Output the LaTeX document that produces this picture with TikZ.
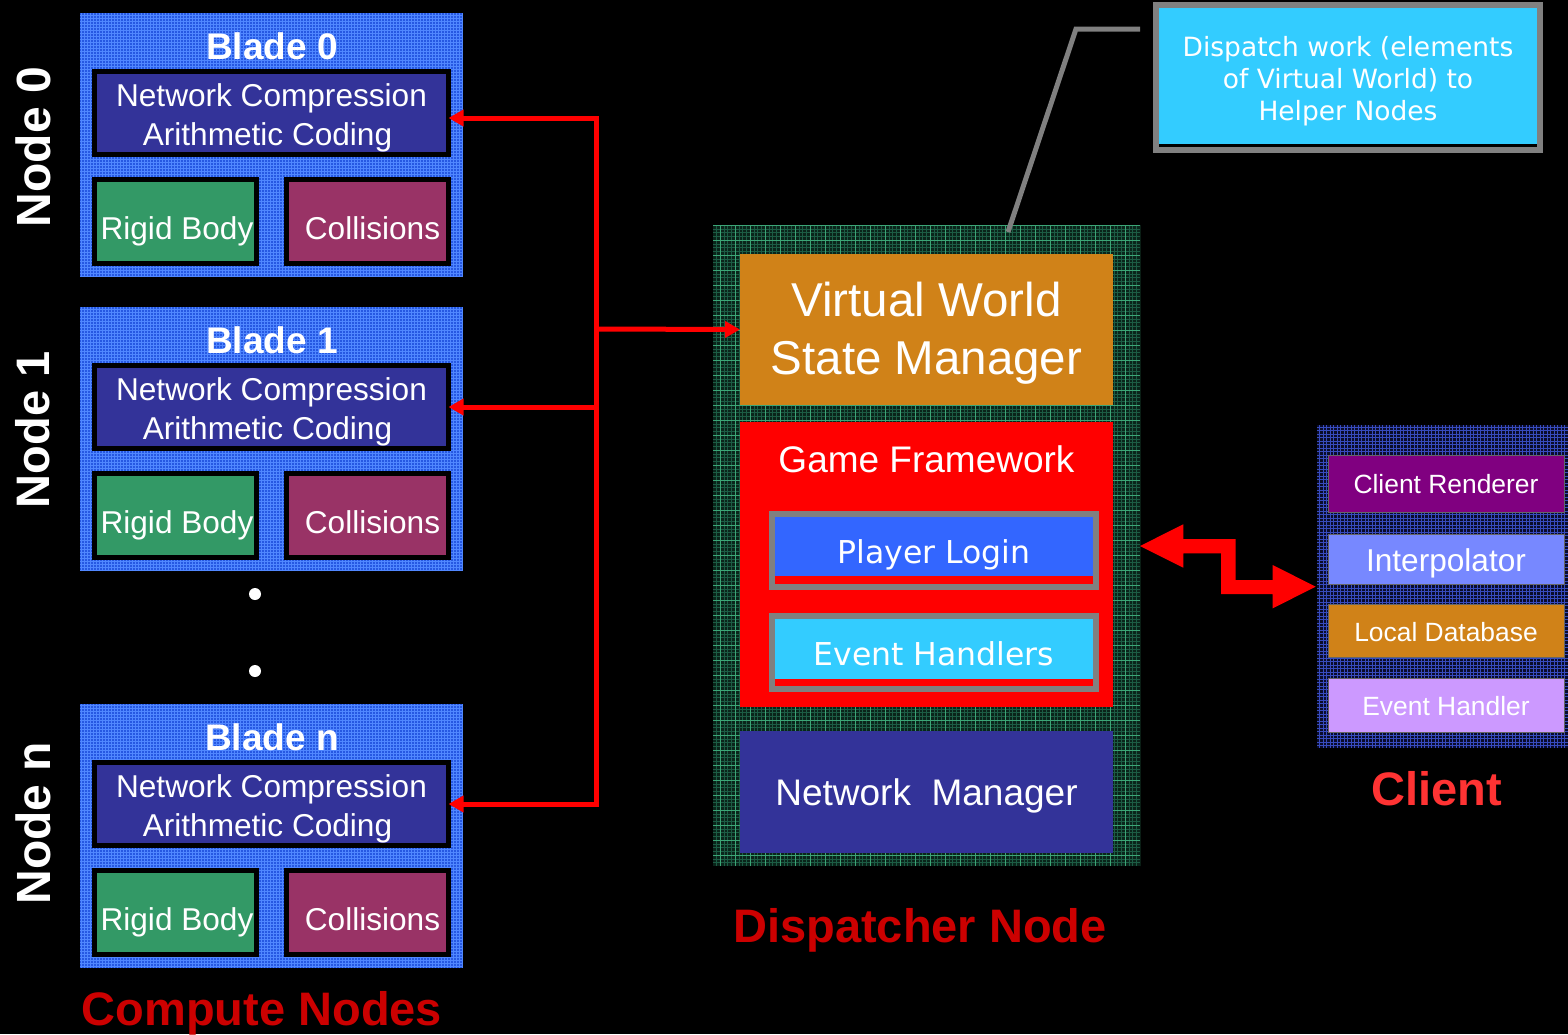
\documentclass[tikz,border=0pt]{standalone}
\usepackage{fontspec}
\setmainfont{Liberation Sans}
\newfontfamily\tahfont{DejaVu Sans}
\usetikzlibrary{arrows.meta,calc}

\definecolor{bladebg}{RGB}{38,88,226}
\definecolor{bladegrid}{RGB}{80,135,255}
\definecolor{ncpurple}{RGB}{51,51,153}
\definecolor{rbgreen}{RGB}{51,153,102}
\definecolor{colmag}{RGB}{153,51,102}
\definecolor{vworange}{RGB}{208,130,24}
\definecolor{plblue}{RGB}{51,102,255}
\definecolor{ehcyan}{RGB}{51,204,255}
\definecolor{dispbg}{RGB}{10,36,26}
\definecolor{dispfine}{RGB}{28,92,68}
\definecolor{displine}{RGB}{60,165,118}
\definecolor{clibg}{RGB}{10,12,42}
\definecolor{cligrid}{RGB}{55,75,190}
\definecolor{crpurple}{RGB}{128,0,128}
\definecolor{interp}{RGB}{119,136,255}
\definecolor{evlilac}{RGB}{204,153,255}
\definecolor{darkred}{RGB}{204,0,0}
\definecolor{brightred}{RGB}{255,51,51}
\definecolor{leadgray}{RGB}{128,128,128}

% fine grid texture clipped to a node
\newcommand\gridfill[4]{%
  \begin{scope}
    \clip (#1.south west) rectangle (#1.north east);
    \draw[#2, line width=#4] (#1.south west) grid[step=#3] (#1.north east);
  \end{scope}}
% text whose baseline sits #1 below the centre of its node
\newcommand\bl[2]{\raisebox{-#1}[0pt][0pt]{#2}}

\tikzset{
  plain/.style={inner sep=0pt, outer sep=0pt},
  bladebox/.style={plain, fill=bladebg, minimum width=383pt, minimum height=264pt},
  framed/.style={plain, draw=black, line width=5pt, text=white,
    font=\fontsize{31.6pt}{38pt}\selectfont},
  tlabel/.style={plain, text=white},
  baseline text/.style={plain, text=white, anchor=base},
  bigred/.style={plain, anchor=base, font=\bfseries\fontsize{47pt}{50pt}\selectfont},
  slab/.style={plain, text=white, minimum width=373pt},
  greybox/.style={plain, draw=leadgray, line width=6pt, text=white,
    minimum width=324pt, minimum height=73pt,
    font=\tahfont\fontsize{31.5pt}{36pt}\selectfont},
  clibox/.style={plain, draw=black!60, line width=0.8pt, text=white,
    minimum width=236pt, font=\fontsize{26.4pt}{30pt}\selectfont},
  feed/.style={draw=red, line width=5pt, -{Triangle[length=15pt,width=16pt]}},
}

\begin{document}
\begin{tikzpicture}[x=1pt,y=-1pt]
\useasboundingbox (0,0) rectangle (1568,1034);
\fill[black] (0,0) rectangle (1568,1034);

% ---------------- compute nodes ----------------
\foreach \k/\dy/\ny/\nsz in {0/0/147/48,1/294/430/47,n/691/823/48} {
  \node[bladebox] (blade\k) at (271.5,{145+\dy}) {};
  \gridfill{blade\k}{bladegrid}{3pt}{0.6pt}
  \node[baseline text, font=\bfseries\fontsize{37pt}{40pt}\selectfont]
    (title\k) at (272,{59.3+\dy}) {Blade \k};
  \node[framed, fill=ncpurple, minimum width=354pt, minimum height=83pt]
    (nc\k) at (271.5,{113+\dy}) {\bl{-6.3pt}{Network Compression}};
  \node[baseline text, font=\fontsize{31.6pt}{38pt}\selectfont]
    (nctwo\k) at (267.5,{145+\dy}) {Arithmetic Coding};
  \node[framed, fill=rbgreen, minimum width=162pt, minimum height=84pt]
    (rb\k) at (175.5,{221.5+\dy}) {\bl{17.5pt}{\hspace{3pt}Rigid Body}};
  \node[framed, fill=colmag, minimum width=162pt, minimum height=84pt]
    (col\k) at (367.5,{221.5+\dy}) {\bl{17.5pt}{\hspace{10pt}Collisions}};
  \node[tlabel, rotate=90, font=\bfseries\fontsize{\nsz pt}{50pt}\selectfont]
    (nodelbl\k) at (33,\ny) {Node \k};
}
\node[plain, circle, fill=white, minimum size=12pt] (dotA) at (255,594) {};
\node[plain, circle, fill=white, minimum size=12pt] (dotB) at (255,671) {};
\node[bigred, text=darkred] (computelbl) at (262,1025) {Compute Nodes};

% ---------------- dispatcher node ----------------
\node[plain, fill=dispbg, minimum width=427pt, minimum height=641pt]
  (disp) at (926.5,545.5) {};
\gridfill{disp}{dispfine}{3.75pt}{0.45pt}
\gridfill{disp}{displine}{15pt}{0.9pt}

\node[slab, fill=vworange, minimum height=151pt,
  font=\fontsize{47.5pt}{58pt}\selectfont]
  (vwsm) at (926.5,329.5) {\bl{-12.8pt}{Virtual World}};
\node[baseline text, font=\fontsize{47.5pt}{58pt}\selectfont]
  (vwsmtwo) at (926.5,374) {State Manager};

\node[slab, fill=red, minimum height=285pt] (gf) at (926.5,564.5) {};
\node[baseline text, font=\fontsize{37pt}{40pt}\selectfont]
  (gftitle) at (926.5,472.7) {Game Framework};

\node[greybox, fill=plblue] (login) at (934,550.5) {\bl{12.8pt}{Player Login}};
\fill[red] ($(login.south west)+(3,-3)$) rectangle ($(login.south east)+(-3,-11)$);
\node[greybox, fill=ehcyan] (events) at (934,652.5) {\bl{13.2pt}{Event Handlers}};
\fill[red] ($(events.south west)+(3,-3)$) rectangle ($(events.south east)+(-3,-10)$);

\node[slab, fill=ncpurple, minimum height=122pt,
  font=\fontsize{37pt}{40pt}\selectfont]
  (netmgr) at (926.5,792) {\bl{13pt}{Network~~Manager}};

\node[bigred, text=darkred] (displbl) at (920,942.3) {Dispatcher Node};

% ---------------- callout ----------------
\node[plain, fill=ehcyan, draw=leadgray, line width=6pt, text=white,
  minimum width=384pt, minimum height=145pt,
  font=\tahfont\fontsize{26.5pt}{32pt}\selectfont]
  (callout) at (1348,77.5) {\bl{-21.5pt}{Dispatch work (elements}};
\fill[black] ($(callout.south west)+(3,-3)$) rectangle ($(callout.south east)+(-3,-6)$);
\node[baseline text, font=\tahfont\fontsize{26.5pt}{32pt}\selectfont]
  (callouttwo) at (1348,88.3) {of Virtual World) to};
\node[baseline text, font=\tahfont\fontsize{26.5pt}{32pt}\selectfont]
  (calloutthree) at (1348,120) {Helper Nodes};
\coordinate (leadA) at (1140,29);
\coordinate (leadB) at (1076,29);
\coordinate (leadC) at (1008,232);
\draw[leadgray, line width=5pt] (leadA) -- (leadB) -- (leadC);

% ---------------- client ----------------
\node[plain, fill=clibg, minimum width=251pt, minimum height=323pt]
  (client) at (1442.5,586.5) {};
\gridfill{client}{cligrid}{3.5pt}{0.45pt}
\node[clibox, fill=crpurple, minimum height=57pt] (renderer) at (1446,483.5) {\bl{9.8pt}{Client Renderer}};
\node[clibox, fill=interp, minimum height=50pt, font=\fontsize{31.6pt}{34pt}\selectfont]
  (interpol) at (1446,559) {\bl{12.7pt}{Interpolator}};
\node[clibox, fill=vworange, minimum height=53pt] (localdb) at (1446,630.5) {\bl{11.2pt}{Local Database}};
\node[clibox, fill=evlilac, minimum height=54pt] (evhandler) at (1446,705) {\bl{10pt}{Event Handler}};
\node[bigred, text=brightred] (clientlbl) at (1437,805) {Client};

% ---------------- connectors ----------------
\coordinate (hub) at (596,329);
\draw[feed] (hub) |- ([yshift=-5pt]nc0.east);
\draw[feed] (hub) |- (nc1.east);
\draw[feed] (hub) |- (ncn.east);
\draw[feed] (hub) -- (vwsm.west);

% zig-zag two-way link between dispatcher and client
\fill[red] (1140,546) -- (1183.3,524.3) -- (1183.3,539) -- (1235.7,539)
  -- (1235.7,580) -- (1272.7,580) -- (1272.7,565) -- (1315.7,586.7)
  -- (1272.7,608.3) -- (1272.7,594) -- (1221,594) -- (1221,553.3)
  -- (1183.3,553.3) -- (1183.3,567.7) -- cycle;
\end{tikzpicture}
\end{document}
